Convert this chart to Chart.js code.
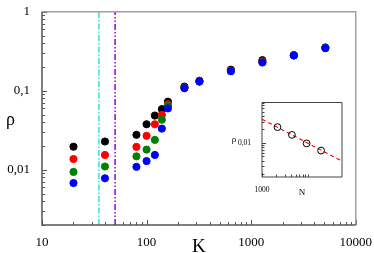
<!DOCTYPE html>
<html>
<head>
<meta charset="utf-8">
<script src="https://cdn.jsdelivr.net/npm/chart.js@4"></script>
<style>
html, body { margin: 0; padding: 0; background: #fff; }
#wrap { position: relative; width: 374px; height: 253px; }
#mainChart { position: absolute; left: 0; top: 0; }
#insetChart { position: absolute; left: 230px; top: 95px; }
</style>
</head>
<body>
<div id="wrap">
  <canvas id="mainChart" width="374" height="253"></canvas>
  <canvas id="insetChart" width="124" height="105"></canvas>
</div>
<script>
// main panel: rho vs K, four series
var kValues   = [20, 40, 80, 100, 120, 140, 160, 230, 320, 640, 1280, 2560, 5120];
var rhoBlack  = [0.0196, 0.0228, 0.0277, 0.0377, 0.0486, 0.0586, 0.0728, 0.113, 0.134, 0.185, 0.244, 0.283, 0.349];
var rhoRed    = [0.0137, 0.0154, 0.0195, 0.0269, 0.0377, 0.0496, 0.0675, 0.110, 0.132, 0.180, 0.235, 0.281, 0.350];
var rhoGreen  = [0.0094, 0.0110, 0.0148, 0.0180, 0.0239, 0.0431, 0.0644, 0.109, 0.131, 0.178, 0.230, 0.280, 0.355];
var rhoBlue   = [0.0068, 0.0078, 0.0109, 0.0129, 0.0154, 0.0332, 0.0598, 0.108, 0.131, 0.177, 0.228, 0.280, 0.347];
var cutoffs   = [35, 50];

// inset: rho vs N with fitted power law
var nValues   = [2100, 4200, 8500, 17000];
var rhoInset  = [0.0226, 0.0151, 0.0097, 0.0067];
var fitN      = [1000, 46000];
var fitRho    = [0.034, 0.0039];

var serif = "'Liberation Serif', 'DejaVu Serif', serif";

function pts(xs, ys) {
  return xs.map(function (x, i) { return { x: x, y: ys[i] }; });
}

function isDecade(v) {
  var e = Math.log10(v);
  return Math.abs(e - Math.round(e)) < 1e-6;
}

function fmtLog(v) {
  if (!isDecade(v)) return '';
  return String(+v.toPrecision(6)).replace('.', ',');
}

function logTicks(min, max) {
  var out = [];
  for (var e = Math.floor(Math.log10(min)); e <= Math.ceil(Math.log10(max)); e++) {
    for (var m = 1; m <= 9; m++) {
      var v = e < 0 ? m / Math.pow(10, -e) : m * Math.pow(10, e);
      if (v >= min * 0.9999 && v <= max * 1.0001) out.push({ value: v });
    }
  }
  return out;
}

// inward tick marks, box and upright rho symbol
var framePlugin = {
  id: 'frame',
  afterDatasetsDraw: function (chart, args, o) {
    var ctx = chart.ctx, a = chart.chartArea;
    ctx.save();
    ctx.strokeStyle = o.axisColor;
    ctx.lineWidth = 1;
    ['x', 'y'].forEach(function (id) {
      var s = chart.scales[id];
      s.ticks.forEach(function (t) {
        if (o.tickMax && t.value > o.tickMax) return;
        var len = isDecade(t.value) ? o.major : o.minor;
        var p = Math.round(s.getPixelForValue(t.value)) + 0.5;
        ctx.beginPath();
        if (id === 'x') { ctx.moveTo(p, a.bottom); ctx.lineTo(p, a.bottom - len); }
        else { ctx.moveTo(a.left, p); ctx.lineTo(a.left + len, p); }
        ctx.stroke();
      });
    });
    ctx.strokeStyle = o.boxColor;
    ctx.lineWidth = o.boxWidth;
    ctx.beginPath();
    ctx.moveTo(a.left, a.top); ctx.lineTo(a.right, a.top); ctx.lineTo(a.right, a.bottom);
    ctx.stroke();
    ctx.strokeStyle = o.axisColor;
    ctx.lineWidth = o.axisWidth;
    ctx.beginPath();
    ctx.moveTo(a.left, a.top); ctx.lineTo(a.left, a.bottom); ctx.lineTo(a.right, a.bottom);
    ctx.stroke();
    ctx.fillStyle = '#000';
    ctx.font = o.symFont;
    ctx.textAlign = 'center';
    ctx.textBaseline = 'middle';
    var ys = chart.scales.y;
    var sy = o.symAt ? ys.getPixelForValue(o.symAt) + o.symDy : (a.top + a.bottom) / 2 + o.symDy;
    ctx.fillText('\u03c1', ys.left + o.symDx, sy);
    ctx.restore();
  }
};

new Chart(document.getElementById('mainChart'), {
  type: 'scatter',
  data: {
    datasets: [
      { data: pts([cutoffs[0], cutoffs[0]], [0.002, 1]), showLine: true, pointRadius: 0,
        borderColor: '#33dede', borderWidth: 1.5, borderDash: [6, 2, 1.5, 2], order: 5 },
      { data: pts([cutoffs[1], cutoffs[1]], [0.002, 1]), showLine: true, pointRadius: 0,
        borderColor: '#9400d3', borderWidth: 1.5, borderDash: [6, 2, 1.5, 2, 1.5, 2], order: 4 },
      { data: pts(kValues, rhoBlack), backgroundColor: '#000000', borderColor: '#000000', pointRadius: 3.6, order: 3 },
      { data: pts(kValues, rhoRed), backgroundColor: '#ff0000', borderColor: '#ff0000', pointRadius: 3.6, order: 2 },
      { data: pts(kValues, rhoGreen), backgroundColor: '#008000', borderColor: '#008000', pointRadius: 3.6, order: 1 },
      { data: pts(kValues, rhoBlue), backgroundColor: '#0000ff', borderColor: '#0000ff', pointRadius: 3.6, order: 0 }
    ]
  },
  options: {
    responsive: false,
    animation: false,
    layout: { padding: { top: 5, right: 17, left: 0, bottom: 0 } },
    plugins: {
      legend: { display: false },
      tooltip: { enabled: false },
      frame: { axisColor: '#555', axisWidth: 1.5, boxColor: '#a0a0a0', boxWidth: 1.5,
               major: 5, minor: 3, symFont: '18px ' + serif, symDx: 10.5, symDy: 2 }
    },
    scales: {
      x: {
        type: 'logarithmic', min: 10, max: 10000, position: 'bottom',
        grid: { display: false }, border: { display: false },
        afterBuildTicks: function (s) { s.ticks = logTicks(s.min, s.max); },
        afterFit: function (s) { s.height = 28; },
        ticks: { autoSkip: false, maxRotation: 0, minRotation: 0, padding: 2, color: '#000',
                 font: { family: serif, size: 13 }, callback: fmtLog },
        title: { display: true, text: 'K', color: '#000', padding: 0,
                 font: { family: serif, size: 19, lineHeight: 0.65 } }
      },
      y: {
        type: 'logarithmic', min: 0.002, max: 1, position: 'left',
        grid: { display: false }, border: { display: false },
        afterBuildTicks: function (s) { s.ticks = logTicks(s.min, s.max); },
        afterFit: function (s) { s.width = 42; },
        ticks: { autoSkip: false, padding: 4, color: '#000',
                 font: { family: serif, size: 13 }, callback: fmtLog }
      }
    }
  },
  plugins: [framePlugin]
});

new Chart(document.getElementById('insetChart'), {
  type: 'scatter',
  data: {
    datasets: [
      { data: pts(fitN, fitRho), showLine: true, pointRadius: 0,
        borderColor: '#ff0000', borderWidth: 1.2, borderDash: [4, 3], order: 1 },
      { data: pts(nValues, rhoInset), pointRadius: 3.4, borderWidth: 1,
        borderColor: '#000', backgroundColor: 'rgba(0,0,0,0)', order: 0 }
    ]
  },
  options: {
    responsive: false,
    animation: false,
    layout: { padding: { top: 4, right: 12, left: 0, bottom: 0 } },
    plugins: {
      legend: { display: false },
      tooltip: { enabled: false },
      frame: { axisColor: '#444', axisWidth: 1, boxColor: '#444', boxWidth: 1,
               major: 4, minor: 2.5, tickMax: 9000, symFont: '9px ' + serif,
               symDx: 4, symAt: 0.01, symDy: -3 }
    },
    scales: {
      x: {
        type: 'logarithmic', min: 1000, max: 46400, position: 'bottom',
        grid: { display: false }, border: { display: false },
        afterBuildTicks: function (s) { s.ticks = logTicks(s.min, 10000); },
        afterFit: function (s) { s.height = 23; },
        ticks: { autoSkip: false, maxRotation: 0, minRotation: 0, padding: 1, color: '#000',
                 font: { family: serif, size: 7.5 },
                 callback: function (v) { return v === 1000 ? '1000' : ''; } },
        title: { display: true, text: 'N', color: '#000', padding: { top: 0, bottom: 2 },
                 font: { family: serif, size: 9 } }
      },
      y: {
        type: 'logarithmic', min: 0.0017, max: 0.081, position: 'left',
        grid: { display: false }, border: { display: false },
        afterBuildTicks: function (s) { s.ticks = logTicks(s.min, s.max); },
        afterFit: function (s) { s.width = 32; },
        ticks: { autoSkip: false, padding: 3, color: '#000',
                 font: { family: serif, size: 7.5 }, callback: fmtLog }
      }
    }
  },
  plugins: [framePlugin]
});
</script>
</body>
</html>
